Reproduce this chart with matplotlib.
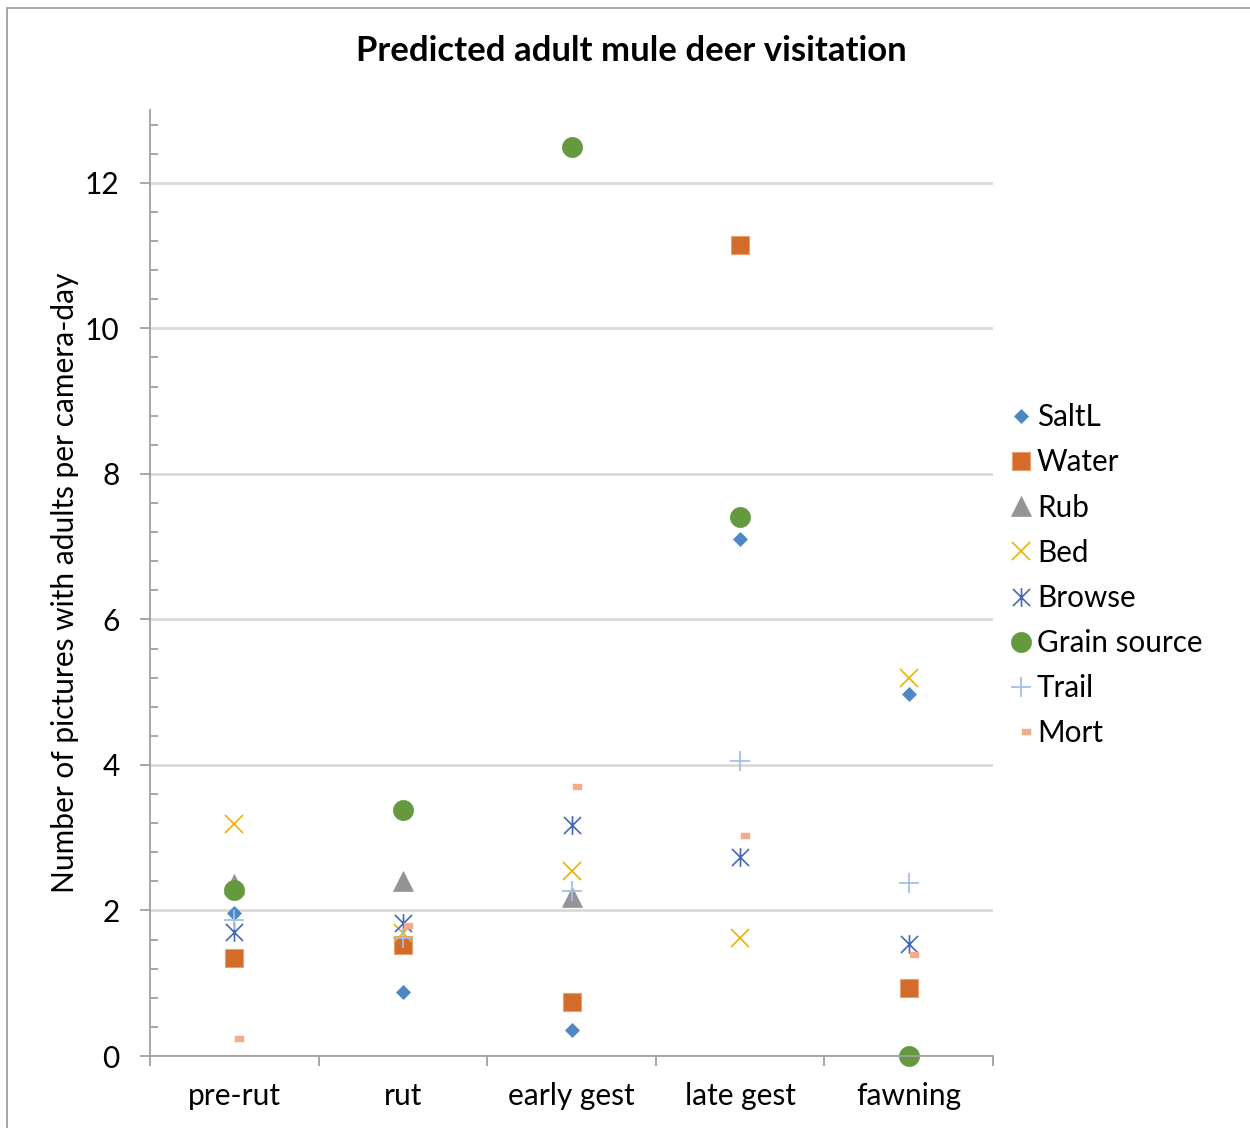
import numpy as np
import matplotlib
matplotlib.use("Agg")
import matplotlib.pyplot as plt
from matplotlib.path import Path
from matplotlib.patches import Rectangle

plt.rcParams['font.family'] = ['Lato', 'DejaVu Sans']

periods = ["pre-rut", "rut", "early gest", "late gest", "fawning"]

salt_lick = [1.97, 0.88, 0.36, 7.10, 4.98]
water = [1.35, 1.52, 0.74, 11.14, 0.94]
rub = [2.37, 2.40, 2.18, np.nan, np.nan]
bed = [3.19, 1.69, 2.54, 1.62, 5.19]
browse = [1.70, 1.83, 3.17, 2.73, 1.54]
grain = [2.28, 3.38, 12.49, 7.41, 0.00]
trail = [1.87, 1.62, 2.27, 4.06, 2.38]
mort = [0.24, 1.79, 3.70, 3.03, 1.39]

# Asterisk: two diagonals plus a vertical stroke
asterisk = Path(
    [(-1, -1), (1, 1), (-1, 1), (1, -1), (0, -1.1), (0, 1.1)],
    [Path.MOVETO, Path.LINETO, Path.MOVETO, Path.LINETO, Path.MOVETO, Path.LINETO],
)
# Dash: short bar drawn to the right of the point
dash = Path(
    [(0.05, -0.25), (1.0, -0.25), (1.0, 0.25), (0.05, 0.25), (0.05, -0.25)],
    [Path.MOVETO, Path.LINETO, Path.LINETO, Path.LINETO, Path.CLOSEPOLY],
)

series = [
    ("SaltL", salt_lick, dict(marker="D", ms=7.6, mfc="#4F87C4", mec="#4F87C4", mew=0.5)),
    ("Water", water, dict(marker="s", ms=13.0, mfc="#D36C2B", mec="#E8A070", mew=0.8)),
    ("Rub", rub, dict(marker="^", ms=14.0, mfc="#949494", mec="#949494", mew=0.5)),
    ("Bed", bed, dict(marker="x", ms=13.5, mfc="none", mec="#EEB100", mew=1.2)),
    ("Browse", browse, dict(marker=asterisk, ms=13.5, mfc="none", mec="#4468B8", mew=1.2)),
    ("Grain source", grain, dict(marker="o", ms=14.5, mfc="#64993D", mec="#64993D", mew=0.5)),
    ("Trail", trail, dict(marker="+", ms=14.5, mfc="none", mec="#A2C0E6", mew=1.3)),
    ("Mort", mort, dict(marker=dash, ms=14.5, mfc="#F4AB8A", mec="#F4AB8A", mew=0.3)),
]

fig = plt.figure(figsize=(12.5, 11.28), dpi=100)
fig.patches.append(Rectangle((0.0058, -0.05), 1.2, 1.043, transform=fig.transFigure,
                             fill=False, edgecolor="#A0A0A0", linewidth=1.3))

ax = fig.add_axes([0.12, 0.0638, 0.6744, 0.8387])
x = np.arange(len(periods))
for name, vals, style in series:
    ax.plot(x, vals, linestyle="none", label=name, clip_on=False, **style)

ax.set_xlim(-0.5, 4.5)
ax.set_ylim(0, 13)
ax.set_yticks(np.arange(0, 13, 2))
ax.set_yticks(np.arange(0, 13.01, 0.4), minor=True)
ax.set_xticks(x)
ax.set_xticks(np.arange(-0.5, 4.6, 1), minor=True)
ax.set_xticklabels(periods)

ax.grid(axis="y", which="major", color="#D9D9D9", linewidth=2)
ax.set_axisbelow(True)
for side in ("top", "right"):
    ax.spines[side].set_visible(False)
for side in ("left", "bottom"):
    ax.spines[side].set_color("#A0A0A0")
    ax.spines[side].set_linewidth(1.3)

ax.tick_params(axis="y", which="major", direction="out", length=7, width=1.3,
               color="#A0A0A0", labelsize=21.5, pad=15)
ax.tick_params(axis="y", which="minor", direction="in", length=6, width=1.3, color="#A0A0A0")
ax.tick_params(axis="x", which="major", length=0, labelsize=21.5, pad=19)
ax.tick_params(axis="x", which="minor", direction="out", length=7, width=1.3, color="#A0A0A0")

ax.set_ylabel("Number of pictures with adults per camera-day", fontsize=21.5, labelpad=4)
fig.text(0.505, 0.955, "Predicted adult mule deer visitation", ha="center", va="center",
         fontsize=25, fontweight="bold")

leg = ax.legend(loc="upper left", bbox_to_anchor=(0.8, 0.653), bbox_transform=fig.transFigure,
                frameon=False, fontsize=21.3, handlelength=0.6, handletextpad=0.25,
                labelspacing=0.58, borderaxespad=0, numpoints=1)

fig.savefig("out.png", dpi=100)
